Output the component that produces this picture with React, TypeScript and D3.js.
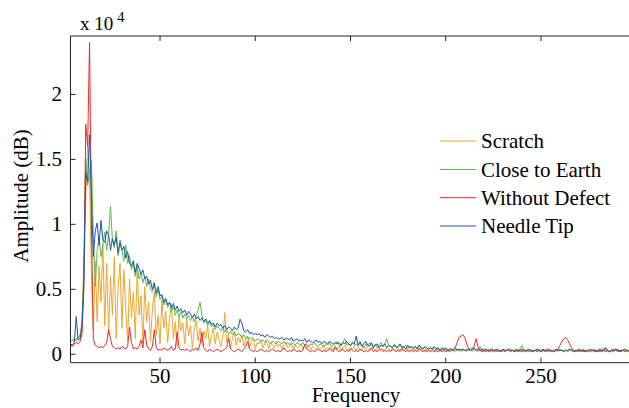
import React from "react";
import * as d3 from "d3";

// Frequencies (Hz) sampled 3..296
const FREQ_START = 3;
const FREQ_END = 296;

// Amplitude values in hundreds (value * 100 = amplitude)
const SCRATCH = [
  11, 10, 12, 10, 13, 15, 25, 60, 120, 160,
  135, 60, 18, 72, 25, 68, 40, 85, 22, 70,
  15, 60, 30, 75, 12, 52, 70, 20, 65, 35,
  10, 58, 28, 48, 12, 66, 30, 45, 8, 52,
  25, 40, 10, 35, 48, 15, 30, 8, 42, 20,
  33, 9, 28, 38, 12, 25, 6, 30, 18, 24,
  8, 27, 14, 22, 5, 19, 26, 10, 20, 7,
  18, 12, 22, 6, 15, 20, 8, 17, 11, 6,
  14, 32, 9, 16, 5, 12, 18, 7, 13, 9,
  15, 6, 11, 14, 5, 10, 12, 4, 9, 8,
  11, 5, 8, 10, 4, 9, 7, 5, 10, 6,
  8, 4, 7, 9, 5, 6, 8, 4, 7, 5,
  6, 8, 4, 6, 5, 7, 3, 6, 5, 4,
  6, 4, 5, 7, 3, 5, 4, 6, 3, 5,
  4, 6, 3, 5, 7, 4, 3, 5, 4, 6,
  3, 5, 4, 3, 6, 4, 5, 3, 4, 5,
  3, 4, 5, 3, 4, 3, 5, 4, 3, 4,
  4, 3, 4, 3, 5, 3, 4, 3, 3, 4,
  3, 4, 3, 3, 4, 3, 2, 4, 3, 3,
  3, 2, 3, 4, 3, 3, 5, 3, 2, 3,
  3, 3, 2, 3, 3, 2, 3, 3, 2, 3,
  3, 2, 3, 3, 2, 3, 3, 2, 3, 2,
  2, 3, 3, 2, 3, 2, 3, 3, 2, 3,
  3, 2, 3, 2, 3, 3, 2, 3, 2, 3,
  2, 3, 3, 2, 3, 2, 3, 2, 3, 2,
  3, 2, 3, 3, 2, 3, 2, 3, 3, 2,
  3, 2, 4, 2, 3, 2, 3, 3, 2, 3,
  2, 3, 2, 3, 3, 2, 3, 2, 3, 2,
  3, 3, 2, 3, 2, 3, 3, 2, 3, 2,
  3, 2, 3, 2,
];

const CLOSE_TO_EARTH = [
  10, 11, 10, 12, 13, 14, 22, 70, 151, 130,
  140, 149, 90, 52, 80, 90, 75, 85, 94, 80,
  92, 114, 88, 82, 95, 76, 88, 80, 72, 84,
  70, 76, 65, 70, 60, 68, 58, 63, 55, 60,
  52, 58, 50, 48, 55, 44, 50, 42, 45, 38,
  42, 36, 40, 33, 37, 30, 34, 29, 33, 28,
  31, 27, 30, 26, 29, 25, 30, 34, 40, 30,
  24, 27, 22, 25, 21, 23, 19, 22, 20, 18,
  21, 17, 19, 16, 18, 15, 17, 14, 16, 15,
  13, 15, 12, 14, 11, 13, 12, 10, 12, 11,
  10, 11, 9, 11, 10, 8, 10, 9, 8, 10,
  9, 8, 10, 8, 9, 7, 9, 8, 7, 9,
  8, 7, 9, 7, 8, 6, 8, 7, 9, 7,
  6, 8, 7, 6, 8, 7, 9, 6, 7, 8,
  10, 7, 6, 9, 12, 7, 8, 6, 9, 7,
  8, 6, 10, 7, 5, 8, 6, 9, 7, 6,
  8, 5, 7, 9, 6, 8, 12, 7, 6, 5,
  8, 6, 5, 7, 6, 5, 7, 4, 6, 5,
  4, 6, 5, 4, 6, 4, 5, 3, 5, 4,
  5, 3, 4, 5, 3, 4, 3, 5, 4, 3,
  4, 3, 3, 4, 3, 4, 3, 3, 4, 3,
  5, 3, 4, 3, 3, 6, 3, 4, 3, 3,
  4, 3, 3, 4, 3, 3, 2, 4, 3, 3,
  3, 4, 3, 3, 2, 3, 4, 7, 3, 3,
  4, 3, 3, 2, 3, 3, 4, 3, 3, 2,
  3, 4, 3, 3, 2, 3, 3, 4, 3, 3,
  3, 2, 3, 4, 3, 3, 2, 3, 3, 4,
  3, 3, 2, 3, 3, 4, 3, 3, 2, 3,
  5, 3, 3, 2, 3, 4, 3, 3, 2, 3,
  3, 3, 2, 3,
];

const WITHOUT_DEFECT = [
  7, 6, 8, 9, 8, 10, 15, 50, 177, 160,
  240, 100, 12, 7, 6, 5, 6, 5, 7, 9,
  19, 12, 6, 5, 4, 5, 4, 6, 5, 4,
  6, 21, 9, 4, 5, 4, 6, 11, 5, 19,
  7, 4, 3, 6, 19, 5, 3, 4, 3, 5,
  4, 3, 4, 6, 3, 4, 17, 5, 3, 4,
  3, 4, 3, 2, 4, 3, 5, 3, 8, 17,
  5, 3, 2, 4, 3, 2, 3, 4, 3, 2,
  3, 4, 5, 12, 4, 3, 2, 3, 4, 3,
  2, 4, 6, 10, 4, 3, 2, 3, 2, 3,
  4, 3, 2, 3, 2, 3, 4, 3, 2, 3,
  2, 3, 5, 3, 2, 3, 2, 4, 3, 2,
  3, 2, 3, 8, 4, 3, 2, 3, 2, 3,
  4, 3, 2, 3, 2, 3, 4, 3, 2, 6,
  3, 2, 3, 4, 2, 3, 2, 4, 3, 2,
  3, 2, 4, 3, 2, 3, 2, 3, 5, 2,
  3, 2, 3, 4, 2, 3, 2, 3, 2, 4,
  3, 2, 3, 2, 4, 3, 2, 3, 2, 3,
  2, 3, 2, 4, 3, 2, 3, 2, 3, 2,
  3, 2, 3, 2, 3, 2, 3, 2, 3, 2,
  3, 3, 5, 9, 13, 14, 15, 13, 8, 4,
  3, 4, 7, 12, 5, 3, 2, 3, 2, 3,
  2, 3, 2, 3, 2, 3, 2, 3, 2, 3,
  3, 2, 3, 2, 3, 2, 3, 2, 3, 2,
  3, 2, 3, 2, 3, 2, 3, 2, 4, 3,
  2, 3, 2, 3, 2, 3, 4, 7, 10, 12,
  13, 11, 8, 5, 3, 2, 3, 2, 3, 2,
  3, 2, 3, 2, 3, 2, 3, 2, 3, 2,
  3, 2, 3, 2, 3, 2, 3, 4, 3, 2,
  3, 2, 3, 2,
];

const NEEDLE_TIP = [
  8, 7, 9, 29, 11, 12, 20, 55, 140, 133,
  169, 120, 75, 95, 101, 84, 103, 88, 86, 95,
  92, 80, 89, 84, 90, 78, 86, 80, 83, 74,
  79, 70, 68, 72, 63, 70, 66, 62, 65, 58,
  60, 54, 57, 50, 55, 47, 52, 45, 46, 40,
  43, 38, 40, 36, 39, 34, 37, 33, 35, 32,
  34, 30, 33, 31, 28, 31, 27, 29, 26, 28,
  25, 27, 24, 26, 23, 24, 21, 24, 22, 23,
  20, 22, 19, 21, 20, 18, 21, 19, 20, 27,
  24, 18, 17, 19, 16, 17, 15, 16, 15, 16,
  14, 15, 13, 15, 14, 13, 14, 12, 13, 12,
  12, 13, 11, 12, 12, 11, 13, 10, 11, 12,
  10, 11, 10, 12, 9, 11, 10, 9, 10, 11,
  9, 10, 8, 10, 9, 8, 10, 9, 8, 9,
  8, 9, 7, 9, 8, 10, 8, 7, 9, 8,
  14, 7, 9, 6, 8, 10, 7, 6, 9, 5,
  7, 8, 5, 7, 6, 8, 5, 7, 6, 5,
  7, 5, 6, 8, 5, 6, 4, 7, 5, 6,
  5, 6, 4, 7, 5, 4, 6, 5, 4, 5,
  4, 6, 4, 5, 3, 5, 4, 4, 3, 4,
  4, 3, 5, 3, 4, 3, 4, 3, 3, 4,
  3, 4, 5, 3, 4, 3, 4, 3, 4, 3,
  3, 4, 3, 3, 4, 3, 2, 4, 3, 3,
  4, 3, 3, 2, 4, 3, 3, 4, 3, 3,
  3, 4, 2, 3, 3, 4, 3, 2, 3, 3,
  4, 3, 3, 2, 3, 4, 3, 3, 3, 2,
  3, 3, 4, 3, 2, 3, 3, 4, 3, 3,
  2, 3, 3, 4, 3, 3, 2, 3, 4, 3,
  3, 5, 3, 2, 3, 3, 4, 3, 2, 3,
  3, 4, 3, 3,
];

const SERIES_NAMES = ["Scratch", "Close to Earth", "Without Defect", "Needle Tip"];
const SERIES_COLORS = ["#EFA62E", "#5DBB46", "#EC2A2B", "#1F55A8"];
const SERIES_VALUES = [SCRATCH, CLOSE_TO_EARTH, WITHOUT_DEFECT, NEEDLE_TIP];

const X_TICKS = [50, 100, 150, 200, 250];
const Y_TICKS = [0, 5000, 10000, 15000, 20000];

const W = 629;
const H = 408;
const LEFT = 70.5;
const RIGHT = 628.6;
const TOP = 36;
const BOTTOM = 362.7;
const FONT = "Liberation Serif";

export default function App() {
  const x = d3.scaleLinear().domain([FREQ_START, FREQ_END]).range([LEFT, RIGHT]);
  const y = d3.scaleLinear().domain([-650, 24500]).range([BOTTOM, TOP]);
  const freqs = d3.range(FREQ_START, FREQ_END + 1);

  const line = d3
    .line<number>()
    .x((_, i) => x(freqs[i]))
    .y((v) => y(v * 100));

  const legendRows = [141, 169.5, 197.7, 226];

  return (
    <svg width={W} height={H} style={{ position: "fixed", left: 0, top: 0, background: "#fff" }}>
      <rect x={0} y={0} width={W} height={H} fill="#fff" />
      <defs>
        <clipPath id="plotclip">
          <rect x={LEFT} y={TOP} width={RIGHT - LEFT + 2} height={BOTTOM - TOP} />
        </clipPath>
      </defs>
      <g clipPath="url(#plotclip)">
        {SERIES_VALUES.map((vals, si) => (
          <path
            key={SERIES_NAMES[si]}
            d={line(vals) || ""}
            fill="none"
            stroke={SERIES_COLORS[si]}
            strokeWidth={1}
            strokeLinejoin="round"
          />
        ))}
      </g>
      {/* axes box */}
      <g stroke="#222" strokeWidth={1} fill="none">
        <line x1={LEFT} x2={LEFT} y1={TOP} y2={BOTTOM} />
        <line x1={LEFT} x2={W} y1={BOTTOM} y2={BOTTOM} />
        <line x1={LEFT} x2={W} y1={TOP} y2={TOP} />
        {X_TICKS.map((t) => (
          <g key={"xt" + t}>
            <line x1={x(t)} x2={x(t)} y1={BOTTOM} y2={BOTTOM - 5} />
            <line x1={x(t)} x2={x(t)} y1={TOP} y2={TOP + 5} />
          </g>
        ))}
        {Y_TICKS.map((t) => (
          <line key={"yt" + t} x1={LEFT} x2={LEFT + 5} y1={y(t)} y2={y(t)} />
        ))}
      </g>
      <g fill="#000">
        {X_TICKS.map((t) => (
          <text key={"xl" + t} fontFamily={FONT} fontSize={21} x={x(t)} y={383} textAnchor="middle">
            {t}
          </text>
        ))}
        {Y_TICKS.map((t) => (
          <text key={"yl" + t} fontFamily={FONT} fontSize={21} x={62} y={y(t) + 7} textAnchor="end">
            {String(t / 10000)}
          </text>
        ))}
        <text fontFamily={FONT} fontSize={21} x={356} y={402} textAnchor="middle">
          Frequency
        </text>
        <text
          fontFamily={FONT}
          fontSize={21}
          x={28}
          y={196}
          textAnchor="middle"
          transform="rotate(-90 28 196)"
        >
          Amplitude (dB)
        </text>
        <text fontFamily={FONT} x={80} y={30} fontSize={19}>
          x 10
        </text>
        <text fontFamily={FONT} x={117} y={22} fontSize={15}>
          4
        </text>
      </g>
      {/* legend */}
      <g>
        {SERIES_NAMES.map((name, i) => (
          <g key={name}>
            <line
              x1={440}
              x2={476}
              y1={legendRows[i]}
              y2={legendRows[i]}
              stroke={SERIES_COLORS[i]}
              strokeWidth={1}
            />
            <text fontFamily={FONT} x={481} y={legendRows[i] + 7} fontSize={21} fill="#000">
              {name}
            </text>
          </g>
        ))}
      </g>
    </svg>
  );
}
